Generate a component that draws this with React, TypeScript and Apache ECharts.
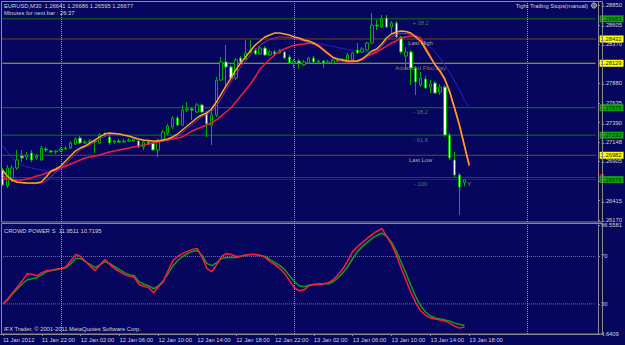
import React, { useEffect, useRef } from "react";
import * as echarts from "echarts";

const BG = "#06065e";
const FONT = "Liberation Sans";
const TXT = "#d4d4d4";
const GRIDC = "#8a8a8a";
const CANDLE = "#00b000";

// 30-minute bars starting 11 Jan 2012 18:00 (category slots, incl. empty future space)
const MONTH = "Jan";
const cats: string[] = [];
for (let i = 0; i < 123; i++) {
  const mins = 18 * 60 + i * 30;
  const day = 11 + Math.floor(mins / 1440);
  const m = mins % 1440;
  const hh = String(Math.floor(m / 60)).padStart(2, "0");
  const mm = String(m % 60).padStart(2, "0");
  cats.push(`${day} ${MONTH} ${hh}:${mm}`);
}
const LAST = cats.length - 1;

const timeLabels = [
  "11 Jan 2012", "11 Jan 22:00", "12 Jan 02:00", "12 Jan 06:00", "12 Jan 10:00",
  "12 Jan 14:00", "12 Jan 18:00", "12 Jan 22:00", "13 Jan 02:00", "13 Jan 06:00",
  "13 Jan 10:00", "13 Jan 14:00", "13 Jan 18:00",
];

const priceTicks = [1.2617, 1.26415, 1.2666, 1.26905, 1.27148, 1.2739, 1.27635, 1.2788, 1.28125, 1.2837, 1.28605, 1.2885];
const cpTicks = [4.6409, 30, 70, 96.5581];
const cpLevels = [70, 30];

// [open, close, low, high]
const ohlc: number[][] = [
  [1.26799, 1.26611, 1.26599, 1.26823], [1.26599, 1.26823, 1.26574, 1.26861], [1.26699, 1.26823, 1.26649, 1.26861],
  [1.26823, 1.26923, 1.26799, 1.27048], [1.26973, 1.26948, 1.26898, 1.27048], [1.2696, 1.26985, 1.26923, 1.27023],
  [1.2701, 1.26923, 1.26898, 1.27048], [1.26948, 1.26973, 1.26923, 1.26998], [1.26923, 1.27072, 1.26911, 1.27097],
  [1.2706, 1.27048, 1.27023, 1.27085], [1.27035, 1.27023, 1.2701, 1.27048], [1.27023, 1.27035, 1.26998, 1.27048],
  [1.27035, 1.2706, 1.27023, 1.27085], [1.2706, 1.27072, 1.27048, 1.27097], [1.27072, 1.27135, 1.2706, 1.2716],
  [1.27122, 1.27185, 1.2711, 1.2721], [1.27197, 1.27135, 1.27122, 1.27222], [1.27135, 1.27147, 1.27122, 1.27172],
  [1.27147, 1.2716, 1.27135, 1.27185], [1.2716, 1.27147, 1.2701, 1.27185], [1.27135, 1.27234, 1.27122, 1.27259],
  [1.27234, 1.27247, 1.2721, 1.27272], [1.2721, 1.27135, 1.2711, 1.27259], [1.27147, 1.2716, 1.27122, 1.27172],
  [1.2716, 1.27147, 1.27135, 1.27185], [1.27147, 1.2716, 1.27135, 1.27185], [1.2716, 1.27172, 1.27147, 1.27197],
  [1.2716, 1.27185, 1.27147, 1.27197], [1.2716, 1.27085, 1.27072, 1.27185], [1.27085, 1.27147, 1.27048, 1.2716],
  [1.27147, 1.27122, 1.2711, 1.2716], [1.27135, 1.27048, 1.27035, 1.27147], [1.27048, 1.27172, 1.2696, 1.27185],
  [1.27172, 1.27272, 1.2716, 1.27297], [1.27259, 1.27347, 1.27234, 1.27372], [1.27334, 1.27447, 1.27309, 1.27471],
  [1.27447, 1.27359, 1.27347, 1.27471], [1.27359, 1.27546, 1.27347, 1.27609], [1.27546, 1.27559, 1.27521, 1.27646],
  [1.27559, 1.27546, 1.27422, 1.27584], [1.27521, 1.27609, 1.27509, 1.27634], [1.27609, 1.27521, 1.27509, 1.27621],
  [1.27509, 1.27372, 1.2721, 1.27534], [1.27359, 1.27484, 1.2711, 1.27571], [1.27484, 1.2792, 1.27459, 1.27958],
  [1.2792, 1.28145, 1.27908, 1.28207], [1.28145, 1.28083, 1.27821, 1.28357], [1.28083, 1.27945, 1.2792, 1.28108],
  [1.27945, 1.2817, 1.2792, 1.28195], [1.28195, 1.28145, 1.2812, 1.2822], [1.28182, 1.28257, 1.2817, 1.28419],
  [1.2827, 1.28295, 1.28257, 1.28419], [1.28295, 1.28245, 1.28232, 1.28319], [1.28245, 1.28319, 1.28232, 1.28344],
  [1.28319, 1.28232, 1.2822, 1.28344], [1.28232, 1.2827, 1.2822, 1.28295], [1.2827, 1.28245, 1.2822, 1.28295],
  [1.28257, 1.28282, 1.28245, 1.28307], [1.2827, 1.28195, 1.28182, 1.28282], [1.28207, 1.28132, 1.2812, 1.28232],
  [1.28132, 1.28157, 1.2807, 1.28182], [1.28157, 1.28132, 1.28058, 1.28182], [1.28108, 1.28145, 1.28095, 1.2817],
  [1.28132, 1.28195, 1.2812, 1.28207], [1.28195, 1.28145, 1.28132, 1.2822], [1.28145, 1.28157, 1.28132, 1.2817],
  [1.28157, 1.28132, 1.2807, 1.2817], [1.28132, 1.28145, 1.2812, 1.2817], [1.28132, 1.2817, 1.2812, 1.28182],
  [1.2817, 1.28157, 1.28145, 1.28195], [1.28157, 1.2817, 1.28145, 1.28195], [1.2817, 1.28232, 1.28157, 1.28257],
  [1.2817, 1.28257, 1.28157, 1.2827], [1.28295, 1.28257, 1.28245, 1.28382], [1.2827, 1.28307, 1.28257, 1.28332],
  [1.28295, 1.28382, 1.28282, 1.28394], [1.28382, 1.28606, 1.28369, 1.28756], [1.28606, 1.28594, 1.28544, 1.28669],
  [1.28581, 1.28694, 1.28569, 1.28731], [1.28694, 1.28581, 1.28569, 1.28731], [1.28581, 1.28631, 1.28507, 1.28656],
  [1.28631, 1.28457, 1.28444, 1.28656], [1.28457, 1.2827, 1.28245, 1.28469], [1.2822, 1.2827, 1.28045, 1.28332],
  [1.2827, 1.2807, 1.27858, 1.28295], [1.2807, 1.27895, 1.27733, 1.28095], [1.27858, 1.27945, 1.27833, 1.2802],
  [1.27933, 1.27821, 1.27808, 1.2797], [1.27833, 1.2787, 1.27758, 1.2792], [1.27883, 1.27758, 1.27746, 1.27908],
  [1.27771, 1.27833, 1.27733, 1.2787], [1.27833, 1.27234, 1.2721, 1.27858], [1.27234, 1.26948, 1.26923, 1.27259],
  [1.26923, 1.26736, 1.26711, 1.27023], [1.26736, 1.26586, 1.26237, 1.26761], [1.26641, 1.26677, 1.26595, 1.26686],
];

const maFast = [
  1.26799, 1.26723, 1.26673, 1.26649, 1.26642, 1.26636, 1.26636, 1.26636, 1.26649, 1.26711,
  1.26786, 1.26811, 1.26848, 1.26911, 1.26973, 1.27035, 1.27072, 1.27097, 1.27135, 1.27172,
  1.2721, 1.27247, 1.27259, 1.27253, 1.27247, 1.27234, 1.27222, 1.27203, 1.27185, 1.27172,
  1.27166, 1.2716, 1.2716, 1.27172, 1.27185, 1.2721, 1.27247, 1.27297, 1.27347, 1.27397,
  1.27447, 1.27484, 1.27509, 1.27559, 1.27646, 1.27746, 1.27846, 1.27945, 1.28045, 1.28132,
  1.28207, 1.28282, 1.28357, 1.28407, 1.28457, 1.28482, 1.28506, 1.28506, 1.28494, 1.28482,
  1.28457, 1.28444, 1.28419, 1.28407, 1.28382, 1.28344, 1.28295, 1.28245, 1.28201, 1.28182,
  1.2817, 1.28157, 1.28157, 1.28157, 1.28182, 1.28232, 1.28282, 1.28307, 1.28369, 1.28444,
  1.28494, 1.28519, 1.28531, 1.28525, 1.28506, 1.28457, 1.28407, 1.28307, 1.28207, 1.28108,
  1.28033, 1.27933, 1.27771, 1.27571, 1.27359, 1.2711, 1.26861,
];

const maMid = [
  1.26736, 1.26699, 1.26661, 1.26642, 1.26636, 1.2663, 1.2663, 1.2663, 1.26636, 1.26661,
  1.26711, 1.26774, 1.26823, 1.26873, 1.26935, 1.26998, 1.27048, 1.27085, 1.2711, 1.27147,
  1.27185, 1.27216, 1.27241, 1.27247, 1.27241, 1.27228, 1.27216, 1.27197, 1.27178, 1.27166,
  1.2716, 1.27154, 1.27154, 1.2716, 1.27172, 1.27191, 1.27222, 1.27266, 1.27316, 1.27366,
  1.27415, 1.27459, 1.2749, 1.27528, 1.27596, 1.2769, 1.27796, 1.27895, 1.27989, 1.28083,
  1.28157, 1.28232, 1.28295, 1.28351, 1.28394, 1.28425, 1.28444, 1.28457, 1.28457, 1.2845,
  1.28438, 1.28425, 1.28407, 1.28388, 1.28369, 1.28338, 1.28295, 1.28245, 1.28201, 1.28176,
  1.28164, 1.28151, 1.28151, 1.28151, 1.2817, 1.28207, 1.28251, 1.28288, 1.28338, 1.28407,
  1.28457, 1.28488, 1.285, 1.285, 1.28488, 1.28444, 1.28394, 1.28301, 1.28201, 1.28101,
  1.28026, 1.27927, 1.27796, 1.27565, 1.27347, 1.27097, 1.26848,
];

const maSlow = [
  1.26699, 1.26686, 1.26673, 1.26673, 1.26673, 1.26686, 1.26699, 1.26723, 1.26736, 1.26761,
  1.26774, 1.26799, 1.26823, 1.26848, 1.26873, 1.26898, 1.26923, 1.26948, 1.2696, 1.26973,
  1.26985, 1.27004, 1.27023, 1.27035, 1.27048, 1.2706, 1.27072, 1.27085, 1.27097, 1.2711,
  1.27122, 1.27135, 1.27147, 1.2716, 1.27172, 1.27185, 1.27197, 1.2721, 1.27247, 1.27284,
  1.27309, 1.27334, 1.27359, 1.27384, 1.27422, 1.27471, 1.27521, 1.27571, 1.27646, 1.27721,
  1.27796, 1.2787, 1.27958, 1.28058, 1.2812, 1.28182, 1.28232, 1.28282, 1.28307, 1.28332,
  1.28351, 1.28363, 1.28369, 1.28382, 1.28369, 1.28357, 1.28307, 1.28257, 1.28207, 1.2817,
  1.28157, 1.28145, 1.28145, 1.28157, 1.28182, 1.2822, 1.28245, 1.2827, 1.28307, 1.28344,
  1.28382, 1.28407, 1.28444, 1.28457, 1.28469, 1.28469, 1.28444, 1.28332, 1.2822, 1.28108,
  1.2802, 1.2792, 1.27758, 1.27559, 1.27347, 1.27097, 1.26848,
];

const maLong = [
  1.2711, 1.27023, 1.26948, 1.26898, 1.26861, 1.26836, 1.26823, 1.26811, 1.26799, 1.26786,
  1.26786, 1.2678, 1.26799, 1.26848, 1.26873, 1.26898, 1.26923, 1.26948, 1.2696, 1.26973,
  1.26985, 1.27004, 1.27023, 1.27035, 1.27048, 1.2706, 1.27072, 1.27085, 1.27097, 1.2711,
  1.27122, 1.27135, 1.27147, 1.2716, 1.27172, 1.27185, 1.27197, 1.2721, 1.27247, 1.27284,
  1.27309, 1.27334, 1.27359, 1.27384, 1.27422, 1.27471, 1.27521, 1.27571, 1.27646, 1.27721,
  1.27796, 1.2787, 1.27958, 1.28058, 1.2812, 1.28182, 1.28232, 1.28282, 1.28307, 1.28332,
  1.28351, 1.28363, 1.28369, 1.28394, 1.28388, 1.28376, 1.28363, 1.28351, 1.28338, 1.28326,
  1.28313, 1.28301, 1.28288, 1.28276, 1.2827, 1.2827, 1.28282, 1.28307, 1.28369, 1.28438,
  1.28482, 1.285, 1.28506, 1.28506, 1.28494, 1.28469, 1.28432, 1.28382, 1.28332, 1.2827,
  1.28195, 1.28108, 1.28008, 1.27908, 1.27796, 1.27671, 1.27571,
];

const cpGreen = [
  30.0, 33.4, 38.5, 42.8, 47.0, 50.4, 51.3, 52.1, 54.7, 57.2,
  58.1, 58.9, 59.8, 60.6, 64.0, 68.3, 68.3, 65.7, 63.2, 60.6,
  63.2, 65.7, 64.0, 61.5, 58.9, 56.4, 54.7, 53.8, 48.7, 46.6,
  45.3, 42.8, 45.3, 49.6, 55.5, 62.3, 66.6, 70.0, 72.6, 74.3,
  75.1, 70.9, 64.0, 62.3, 64.9, 68.3, 69.1, 69.1, 69.1, 70.0,
  71.3, 71.7, 71.7, 70.9, 70.0, 67.4, 64.9, 62.3, 58.9, 53.8,
  48.7, 45.3, 44.5, 45.7, 46.6, 47.0, 47.0, 47.0, 48.7, 52.1,
  56.4, 61.5, 68.3, 74.3, 78.5, 81.9, 85.3, 87.9, 89.6, 87.0,
  81.9, 74.3, 64.9, 55.5, 45.3, 36.0, 28.3, 23.2, 19.8, 18.1,
  17.2, 16.4, 15.5, 13.8, 12.6, 11.9511,
];

const cpRed = [
  30.0, 34.3, 39.4, 44.5, 49.6, 55.5, 55.1, 53.8, 56.4, 58.1,
  58.5, 59.4, 59.8, 61.5, 66.6, 71.7, 70.0, 65.7, 61.5, 58.1,
  63.2, 67.4, 63.2, 59.8, 57.2, 54.7, 53.4, 52.6, 46.2, 44.9,
  43.6, 39.4, 44.5, 48.7, 58.1, 66.6, 70.0, 72.6, 74.3, 76.0,
  76.8, 69.1, 59.8, 57.2, 63.2, 70.0, 72.6, 71.7, 70.0, 70.4,
  71.3, 71.7, 71.7, 70.9, 69.1, 65.7, 63.2, 59.8, 55.5, 49.6,
  43.6, 41.1, 41.9, 45.3, 46.2, 46.2, 47.0, 47.9, 50.4, 54.7,
  59.8, 66.6, 74.3, 78.5, 81.9, 85.3, 88.7, 91.3, 93.5, 87.0,
  80.2, 70.9, 59.8, 49.6, 39.4, 30.9, 24.0, 20.6, 18.1, 17.2,
  16.4, 15.5, 13.8, 11.3, 9.6, 10.7195,
];

// Fibo / object levels
const fibPrices = { p382: 1.28683, lastHigh: 1.28432, dayOpen: 1.28129, m382: 1.27575, m618: 1.27233, lastLow: 1.26982, m100: 1.26679, yLine: 1.26705 };

const FIBG = "#0c7a0c";
const GREENBOX = ["#10a010", "#003a00"];
const YELLOWBOX = ["#ffff00", "#202000"];

function levelSeries(price: number, color: string, type: string, boxText: string | null, box: string[] | null, xAxisIndex = 0, yAxisIndex = 0, z = 1) {
  return {
    type: "line", xAxisIndex, yAxisIndex, silent: true, z,
    data: [[0, price], [LAST, price]],
    symbol: "none",
    lineStyle: { color, type, width: 1 },
    endLabel: boxText
      ? {
          show: true, formatter: boxText, distance: 4,
          backgroundColor: box![0], color: box![1],
          fontFamily: FONT, fontSize: 5.8, padding: [1, 2, 0, 1],
        }
      : { show: false },
  };
}

function textPt(idx: number, price: number, text: string, color: string) {
  return {
    value: [idx, price],
    label: { show: true, formatter: text, color, position: "bottom", distance: 1, fontFamily: FONT, fontSize: 5.8 },
  };
}

function txt(x: number, y: number, text: string, align: string) {
  return {
    type: "text", silent: true, z: 100, x, y,
    style: {
      text, fill: TXT, font: `5.8px "${FONT}"`,
      textAlign: align, textVerticalAlign: "middle", align, verticalAlign: "middle",
    },
  };
}

function buildOption(): any {
  const sepLine = { color: "#9a9a6c", type: "dotted", width: 1 };
  const noLbl = { show: false };
  const sepMark = {
    silent: true, symbol: ["none", "none"], animation: false, label: noLbl,
    data: [
      { xAxis: 12, lineStyle: sepLine, label: noLbl },
      { xAxis: 60, lineStyle: sepLine, label: noLbl },
      { xAxis: 108, lineStyle: sepLine, label: noLbl },
    ],
  };
  return {
    animation: false,
    backgroundColor: BG,
    grid: [
      { left: 0, right: 23, top: 2, height: 220 },
      { left: 0, right: 23, top: 225, height: 109 },
    ],
    xAxis: [
      {
        type: "category", gridIndex: 0, data: cats, boundaryGap: true,
        axisLine: { show: false }, axisTick: { show: false }, axisLabel: { show: false }, splitLine: { show: false },
      },
      {
        type: "category", gridIndex: 1, data: cats, boundaryGap: true,
        axisLine: { show: true, lineStyle: { color: GRIDC } },
        axisTick: { show: true, alignWithLabel: true, length: 2, interval: (i: number) => i % 8 === 0 && i <= 96, lineStyle: { color: GRIDC } },
        axisLabel: {
          interval: (i: number) => i % 8 === 0 && i <= 96,
          formatter: (_v: string, i: number) => timeLabels[i / 8] ?? "",
          align: "left", color: TXT, fontFamily: FONT, fontSize: 5.8, margin: 3,
        },
        splitLine: { show: false },
      },
    ],
    yAxis: [
      {
        type: "value", gridIndex: 0, position: "right", min: 1.2615, max: 1.28893,
        splitLine: { show: false },
        axisLine: { show: true, lineStyle: { color: GRIDC } },
        axisTick: { show: true, customValues: priceTicks, length: 2, lineStyle: { color: GRIDC } },
        axisLabel: { customValues: priceTicks, formatter: (v: number) => v.toFixed(5), color: TXT, fontFamily: FONT, fontSize: 5.8, margin: 3 },
      },
      {
        type: "value", gridIndex: 1, position: "right", min: 4.6409, max: 96.5581,
        splitLine: { show: false },
        axisLine: { show: true, lineStyle: { color: GRIDC } },
        axisTick: { show: true, customValues: cpTicks, length: 2, lineStyle: { color: GRIDC } },
        axisLabel: { customValues: cpTicks, formatter: (v: number) => String(v), color: TXT, fontFamily: FONT, fontSize: 5.8, margin: 3 },
      },
    ],
    series: [
      levelSeries(fibPrices.yLine, "#8a1060", "solid", " ", ["#d01010", "#000"]),
      levelSeries(fibPrices.p382, FIBG, "solid", "1.28683", GREENBOX),
      levelSeries(fibPrices.lastHigh, "#d08a10", "dotted", "1.28432", YELLOWBOX),
      levelSeries(fibPrices.dayOpen, "#9cc400", "solid", "1.28129", YELLOWBOX),
      levelSeries(fibPrices.m382, FIBG, "solid", "1.27575", GREENBOX),
      levelSeries(fibPrices.m618, FIBG, "solid", "1.27233", GREENBOX),
      levelSeries(fibPrices.lastLow, "#d08a10", "dotted", "1.26982", YELLOWBOX),
      levelSeries(fibPrices.m100, FIBG, "dotted", "1.26679", GREENBOX),
      levelSeries(cpLevels[0], "#7c7c40", "dotted", null, null, 1, 1),
      levelSeries(cpLevels[1], "#7c7c40", "dotted", null, null, 1, 1),
      {
        type: "line", xAxisIndex: 0, yAxisIndex: 0, data: maLong, symbol: "none",
        lineStyle: { color: "#2424c8", width: 1 }, z: 1, markLine: sepMark,
      },
      {
        type: "candlestick", xAxisIndex: 0, yAxisIndex: 0, data: ohlc, barWidth: 3,
        itemStyle: { color: BG, color0: "#ffffff", borderColor: CANDLE, borderColor0: CANDLE, borderWidth: 1 },
        z: 2,
      },
      { type: "line", xAxisIndex: 0, yAxisIndex: 0, data: maSlow, symbol: "none", lineStyle: { color: "#f01a3a", width: 1.5 }, z: 4 },
      { type: "line", xAxisIndex: 0, yAxisIndex: 0, data: maMid, symbol: "none", lineStyle: { color: "#b020a0", width: 1 }, z: 5 },
      { type: "line", xAxisIndex: 0, yAxisIndex: 0, data: maFast, symbol: "none", lineStyle: { color: "#f8a81c", width: 1.5 }, z: 6 },
      {
        type: "scatter", xAxisIndex: 0, yAxisIndex: 0, symbolSize: 1, itemStyle: { color: "rgba(0,0,0,0)" }, z: 7, silent: true,
        labelLayout: { hideOverlap: false },
        data: [
          textPt(86, fibPrices.p382, "+ 38.2", "#5f9a5f"),
          textPt(86, fibPrices.lastHigh, "Last High", "#d8d8b0"),
          textPt(86, fibPrices.dayOpen, "Advanced Fibo Day", "#b89a40"),
          textPt(86, fibPrices.m382, "- 38.2", "#5f9a5f"),
          textPt(86, fibPrices.m618, "- 61.8", "#5f9a5f"),
          textPt(86, fibPrices.lastLow, "Last Low", "#d8d8b0"),
          textPt(86, fibPrices.m100, "- 100", "#5f9a5f"),
          { value: [96, 1.26624], label: { show: true, formatter: "Y", color: "#c8c820", position: "inside", fontFamily: FONT, fontSize: 5.8 } },
        ],
      },
      {
        type: "line", xAxisIndex: 1, yAxisIndex: 1, data: cpGreen, symbol: "none", lineStyle: { color: "#10a010", width: 1.5 }, z: 3,
        markLine: sepMark,
      },
      { type: "line", xAxisIndex: 1, yAxisIndex: 1, data: cpRed, symbol: "none", lineStyle: { color: "#ff1a40", width: 1.5 }, z: 4 },
    ],
    graphic: [
      { type: "rect", silent: true, z: 100, shape: { x: 1.5, y: 1.5, width: 601, height: 220.5 }, style: { fill: "none", stroke: GRIDC, lineWidth: 1 } },
      { type: "rect", silent: true, z: 100, shape: { x: 1.5, y: 223.5, width: 601, height: 110.5 }, style: { fill: "none", stroke: GRIDC, lineWidth: 1 } },
      txt(4, 5.5, "EURUSD,M30  1.26641 1.26686 1.26595 1.26677", "left"),
      txt(4, 13, "Minutes for next bar : 26:37", "left"),
      txt(588, 5.5, "Tight Trailing Stops(manual)", "right"),
      { type: "circle", silent: true, z: 100, shape: { cx: 594, cy: 5.5, r: 2.6 }, style: { fill: "#6a6a8a", stroke: "#b0b0b0", lineWidth: 1 } },
      txt(4, 231, "CROWD POWER S  11.9511 10.7195", "left"),
      txt(4, 329, "IFX Trader, \u00a9 2001-2011 MetaQuotes Software Corp.", "left"),
    ],
  };
}

export default function App() {
  const ref = useRef<HTMLDivElement>(null);
  useEffect(() => {
    if (!ref.current) return;
    const chart = echarts.init(ref.current, null, { renderer: "svg", width: 625, height: 345 });
    chart.setOption(buildOption());
    return () => chart.dispose();
  }, []);
  return <div ref={ref} style={{ position: "fixed", left: 0, top: 0, width: 625, height: 345, background: BG }} />;
}
